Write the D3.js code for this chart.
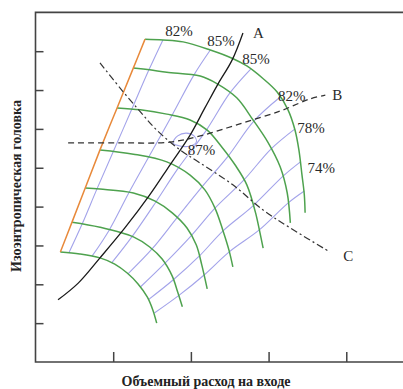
<!DOCTYPE html>
<html><head><meta charset="utf-8">
<script src="https://cdnjs.cloudflare.com/ajax/libs/d3/7.8.5/d3.min.js"></script>
<style>html,body{margin:0;padding:0;background:#fff;}svg{display:block;}</style>
</head><body><svg id="c" width="403" height="389"></svg>
<script>
// ---- data (x: volumetric flow in tick units, y: isentropic head in tick units)
const xTicks = [1, 2, 3, 4];
const yTicks = [1, 2, 3, 4, 5, 6, 7, 8];
const xTitle = "Объемный расход на входе";
const yTitle = "Изоэнтропическая головка";

// speed lines (green), from surge to choke
const speed1 = [[1.41,8.31],[1.64,8.29],[1.90,8.24],[2.25,8.03],[2.53,7.82],[2.72,7.62],[2.92,7.31],[3.11,6.95],[3.25,6.49],[3.34,5.97],[3.39,5.46],[3.43,4.81],[3.46,4.30],[3.47,3.84]];
const speed2 = [[1.26,7.57],[1.47,7.52],[1.69,7.46],[2.12,7.36],[2.34,7.16],[2.59,6.80],[2.80,6.23],[2.99,5.66],[3.15,5.02],[3.24,4.35],[3.28,3.58]];
const speed3 = [[1.05,6.54],[1.35,6.49],[1.69,6.38],[1.99,6.23],[2.21,5.97],[2.40,5.53],[2.57,5.07],[2.72,4.56],[2.84,3.78],[2.93,2.93]];
const speed4 = [[0.83,5.46],[1.26,5.35],[1.69,5.15],[1.99,4.81],[2.18,4.43],[2.31,3.96],[2.41,3.40],[2.49,2.88],[2.54,2.45]];
const speed5 = [[0.64,4.48],[0.83,4.45],[1.26,4.35],[1.54,4.14],[1.76,3.84],[1.95,3.45],[2.07,3.01],[2.14,2.50],[2.21,1.88]];
const speed6 = [[0.47,3.60],[0.83,3.47],[1.26,3.22],[1.47,2.96],[1.63,2.65],[1.76,2.21],[1.83,1.80],[1.89,1.42]];
const speed7 = [[0.32,2.83],[0.57,2.78],[0.83,2.68],[1.02,2.52],[1.18,2.29],[1.32,2.01],[1.44,1.67],[1.51,1.34],[1.56,1.00]];
const speedLines = [speed1, speed2, speed3, speed4, speed5, speed6, speed7];

// surge line (orange)
const surge = [[0.32,2.83],[0.47,3.60],[0.64,4.48],[0.83,5.46],[1.05,6.54],[1.26,7.57],[1.41,8.31]];

// efficiency contours (blue)
const eff1 = [[1.64,8.29],[1.46,7.52],[1.24,6.51],[1.00,5.41],[0.79,4.45],[0.60,3.55],[0.43,2.81]];
const eff2 = [[2.25,8.03],[2.04,7.39],[1.76,6.36],[1.45,5.25],[1.20,4.35],[0.95,3.40],[0.73,2.73]];
const eff3 = [[2.77,7.54],[2.50,6.92],[2.20,5.97],[1.83,4.97],[1.55,4.12],[1.24,3.22],[0.98,2.55]];
const eff4 = [[3.15,6.82],[2.81,6.20],[2.48,5.30],[2.14,4.50],[1.82,3.71],[1.50,2.91],[1.19,2.27]];
const eff5 = [[3.34,6.00],[3.03,5.48],[2.68,4.68],[2.31,3.96],[2.00,3.24],[1.67,2.55],[1.35,1.93]];
const eff6 = [[3.41,5.15],[3.19,4.79],[2.80,4.02],[2.41,3.37],[2.11,2.73],[1.77,2.11],[1.45,1.60]];
const eff7 = [[3.46,4.40],[3.25,4.09],[2.88,3.40],[2.49,2.83],[2.17,2.24],[1.85,1.72],[1.53,1.26]];
const effLines = [eff1, eff2, eff3, eff4, eff5, eff6, eff7];
const peakIsland = [[1.77,5.64],[1.83,5.82],[1.94,5.89],[2.04,5.82],[2.07,5.66],[1.99,5.56],[1.86,5.56]];

// operating lines
const lineA = [[0.29,1.60],[0.55,2.03],[0.83,2.68],[1.15,3.45],[1.47,4.30],[1.73,5.07],[1.99,5.84],[2.18,6.54],[2.35,7.16],[2.53,7.77],[2.67,8.47]];
const lineB = [[0.42,5.64],[1.09,5.64],[1.73,5.66],[2.12,5.82],[2.63,6.13],[3.15,6.46],[3.53,6.77],[3.73,6.87]];
const lineC = [[0.83,7.70],[1.11,7.00],[1.35,6.44],[1.56,5.97],[1.86,5.46],[2.12,5.12],[2.54,4.56],[2.93,3.91],[3.28,3.45],[3.79,2.83]];

// labels
const labelText = ["82%","85%","A","85%","82%","B","78%","74%","87%","C"];
const labelX =    [1.67, 2.21, 2.80, 2.66, 3.12, 3.82, 3.37, 3.50, 1.96, 3.96];
const labelY =    [8.39, 8.13, 8.34, 7.67, 6.72, 6.74, 5.89, 4.86, 5.33, 2.60];

// ---- drawing
const svg = d3.select("#c");
const x = d3.scaleLinear().domain([0, 4.73]).range([35.5, 403]);
const y = d3.scaleLinear().domain([0, 9]).range([362, 12.35]);

const line = d3.line().x(d => x(d[0])).y(d => y(d[1])).curve(d3.curveCatmullRom.alpha(0.5));

// efficiency contours
svg.append("g").selectAll("path").data(effLines).join("path")
  .attr("d", line).attr("fill", "none").attr("stroke", "#a3a3ea").attr("stroke-width", 1.1);
svg.append("path").attr("d", d3.line().x(d => x(d[0])).y(d => y(d[1])).curve(d3.curveCatmullRomClosed)(peakIsland))
  .attr("fill", "none").attr("stroke", "#a3a3ea").attr("stroke-width", 1.1);

// speed lines
svg.append("g").selectAll("path").data(speedLines).join("path")
  .attr("d", line).attr("fill", "none").attr("stroke", "#4ea24e").attr("stroke-width", 1.5);

// surge
svg.append("path").attr("d", line(surge)).attr("fill", "none").attr("stroke", "#e8893a").attr("stroke-width", 1.5);

// operating lines
svg.append("path").attr("d", line(lineA)).attr("fill", "none").attr("stroke", "#1a1a1a").attr("stroke-width", 1.3);
svg.append("path").attr("d", line(lineB)).attr("fill", "none").attr("stroke", "#333").attr("stroke-width", 1.3).attr("stroke-dasharray", "6,4");
svg.append("path").attr("d", line(lineC)).attr("fill", "none").attr("stroke", "#333").attr("stroke-width", 1.2).attr("stroke-dasharray", "7,3,2,3");

// frame and axes
svg.append("path").attr("d", `M${x(4.73)},${y(9)}H${x(0)}V${y(0)}H${x(4.73)}`)
  .attr("fill", "none").attr("stroke", "#444").attr("stroke-width", 1.6);
const ga = svg.append("g").attr("transform", `translate(${x(0)},0)`)
  .call(d3.axisLeft(y).tickValues(yTicks).tickSize(-8).tickFormat(""));
const gb = svg.append("g").attr("transform", `translate(0,${y(0)})`)
  .call(d3.axisBottom(x).tickValues(xTicks).tickSize(-10).tickFormat(""));
[ga, gb].forEach(g => { g.select(".domain").remove(); g.selectAll("line").attr("stroke", "#444").attr("stroke-width", 1.5); });

// labels
svg.append("g").selectAll("text").data(labelText).join("text")
  .attr("x", (d, i) => x(labelX[i])).attr("y", (d, i) => y(labelY[i]))
  .attr("font-family", "'Liberation Serif', 'Times New Roman', serif").attr("font-size", 15)
  .attr("fill", "#2a2a2a").text(d => d);

svg.append("text").attr("x", 206).attr("y", 386).attr("text-anchor", "middle")
  .attr("font-family", "'Liberation Serif', serif").attr("font-weight", "bold").attr("font-size", 14)
  .attr("fill", "#222").text(xTitle);
svg.append("text").attr("transform", "translate(21,186) rotate(-90)").attr("text-anchor", "middle")
  .attr("font-family", "'Liberation Serif', serif").attr("font-weight", "bold").attr("font-size", 14)
  .attr("fill", "#222").text(yTitle);
</script></body></html>
